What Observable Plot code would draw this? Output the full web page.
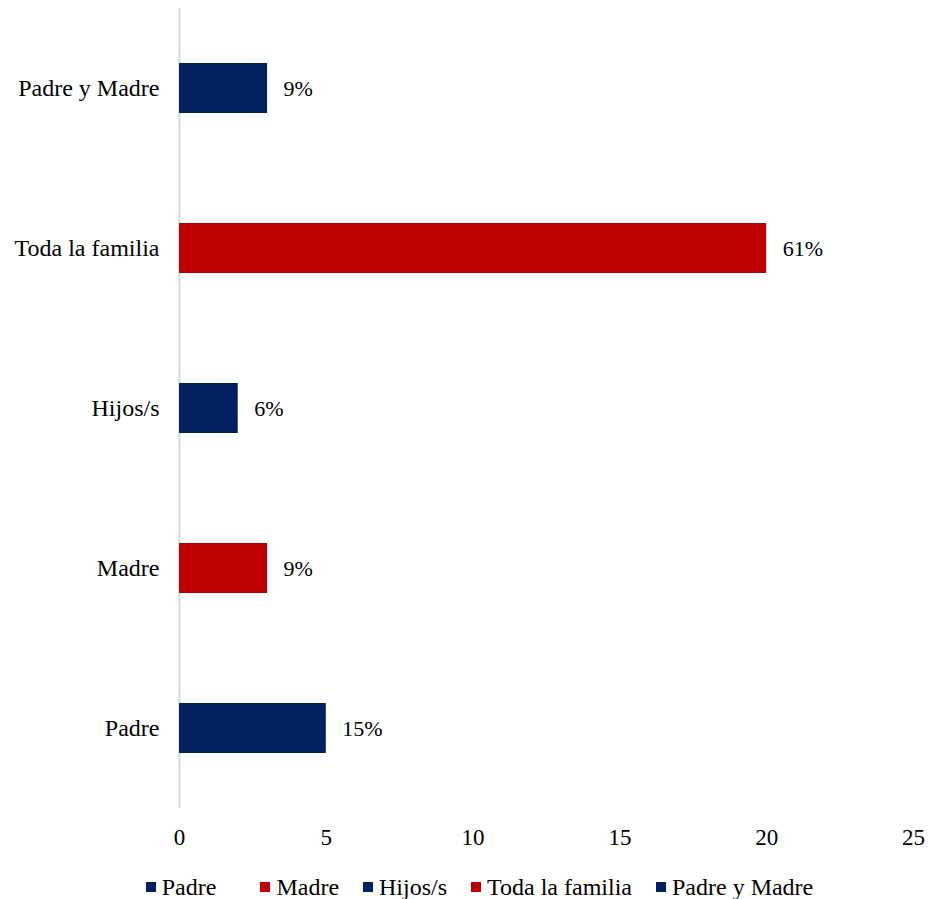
<!DOCTYPE html>
<html>
<head>
<meta charset="utf-8">
<script src="https://cdn.jsdelivr.net/npm/d3@7"></script>
<script src="https://cdn.jsdelivr.net/npm/@observablehq/plot@0.6"></script>
<style>
  body { margin: 0; background: #fff; font-family: "Liberation Serif", "Times New Roman", serif; }
  #chart svg { display: block; }
  #legend { display: flex; justify-content: center; align-items: center; gap: 24px; font-size: 24px; line-height: 26px; color: #000; margin-top: 14px; padding-left: 27px; }
  .item { display: flex; align-items: center; }
  .item:first-child { margin-right: 20px; }
  .sw { width: 10px; height: 10px; margin-right: 6px; display: inline-block; }
</style>
</head>
<body>
<div id="chart"></div>
<div id="legend"></div>
<script>
const categories = ["Padre", "Madre", "Hijos/s", "Toda la familia", "Padre y Madre"];
const values = [5, 3, 2, 20, 3];
const labels = ["15%", "9%", "6%", "61%", "9%"];
const colors = ["#002060", "#C00000", "#002060", "#C00000", "#002060"];
const xTicks = [0, 5, 10, 15, 20, 25];

const data = categories.map((c, i) => ({cat: c, value: values[i], label: labels[i], color: colors[i]}));
const order = categories.slice().reverse();

const chart = Plot.plot({
  width: 932,
  height: 860,
  marginLeft: 179,
  marginRight: 19,
  marginTop: 8,
  marginBottom: 52,
  style: {fontFamily: "'Liberation Serif', 'Times New Roman', serif", fontSize: "23px", color: "#000", background: "#fff"},
  x: {domain: [0, 25], ticks: xTicks, label: null, tickSize: 0, tickPadding: 20},
  y: {domain: order, label: null, tickSize: 0, tickPadding: 20, paddingInner: 0.6875, paddingOuter: 0.34375},
  marks: [
    Plot.ruleX([0], {stroke: "#D9D9D9", strokeWidth: 2}),
    Plot.barX(data, {x: "value", y: "cat", fill: "color"}),
    Plot.text(data, {x: "value", y: "cat", text: "label", textAnchor: "start", dx: 16, fontSize: 22, fill: "#000"})
  ]
});
chart.querySelectorAll("[aria-label='y-axis tick label'] text").forEach(t => t.style.fontSize = "24px");
document.getElementById("chart").appendChild(chart);

const legend = d3.select("#legend");
categories.forEach((c, i) => {
  const it = legend.append("div").attr("class", "item");
  it.append("span").attr("class", "sw").style("background", colors[i]);
  it.append("span").text(c);
});
</script>
</body>
</html>
